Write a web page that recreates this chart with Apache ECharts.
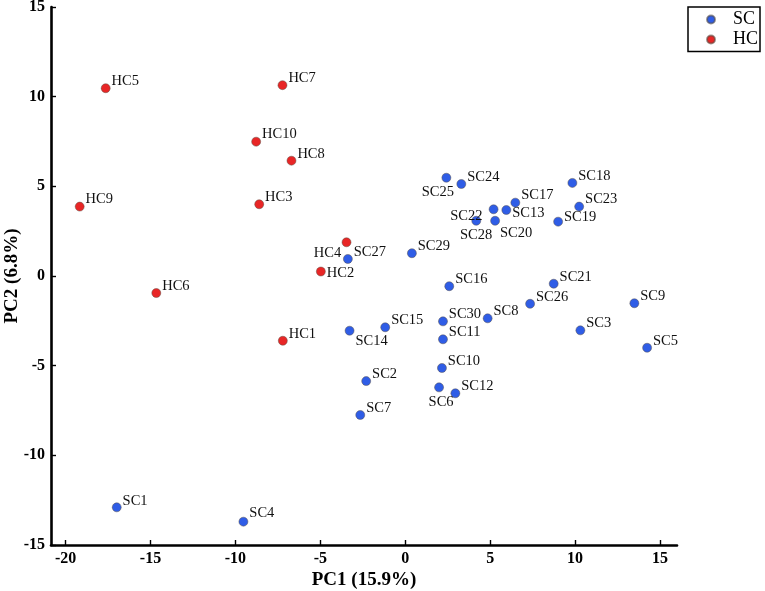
<!DOCTYPE html>
<html>
<head>
<meta charset="UTF-8">
<title>PCA</title>
<style>
  html, body { margin: 0; padding: 0; background: #fff; }
  #pca { width: 765px; height: 591px; }
</style>
</head>
<body>
<div id="pca"></div>
<script src="https://cdn.jsdelivr.net/npm/echarts@6/dist/echarts.min.js"></script>
<script>
// sample scores on the first two components
var scNames = ['SC1','SC2','SC3','SC4','SC5','SC6','SC7','SC8','SC9','SC10',
               'SC11','SC12','SC13','SC14','SC15','SC16','SC17','SC18','SC19','SC20',
               'SC21','SC22','SC23','SC24','SC25','SC26','SC27','SC28','SC29','SC30'];
var scX = [-16.99, -2.30, 10.31, -9.53, 14.24, 1.99, -2.65, 4.85, 13.49, 2.16,
            2.22, 2.95, 5.95, -3.28, -1.18, 2.59, 6.48, 9.84, 9.00, 5.20,
            8.74, 4.18, 10.24, 3.30, 2.42, 7.35, -3.38, 5.29, 0.39, 2.22];
var scY = [-12.90, -5.86, -3.03, -13.70, -4.00, -6.21, -7.75, -2.36, -1.52, -5.13,
           -3.53, -6.54, 3.68, -3.05, -2.86, -0.57, 4.09, 5.19, 3.03, 3.72,
           -0.43, 3.08, 3.87, 5.13, 5.48, -1.55, 0.95, 3.08, 1.27, -2.53];

var hcNames = ['HC1','HC2','HC3','HC4','HC5','HC6','HC7','HC8','HC9','HC10'];
var hcX = [-7.21, -4.97, -8.60, -3.46, -17.64, -14.66, -7.23, -6.70, -19.17, -8.78];
var hcY = [-3.61, 0.25, 4.00, 1.88, 10.47, -0.95, 10.64, 6.43, 3.87, 7.49];

var xTicks = [-20, -15, -10, -5, 0, 5, 10, 15];

// labels that are not simply up-right of their dot
var labelTweaks = {
  SC1:  { offset: [0, -6] },
  SC4:  { offset: [0, -8] },
  SC13: { offset: [0, 3] },
  SC14: { offset: [0, 10] },
  SC19: { offset: [0, -4] },
  HC2:  { offset: [0, 2] },
  SC25: { position: 'inside', align: 'center', offset: [-8.5, 14] },
  HC4:  { position: 'inside', align: 'center', offset: [-19, 11] },
  SC22: { position: 'inside', align: 'center', offset: [-10, -5] },
  SC28: { position: 'inside', align: 'center', offset: [-19, 14] },
  SC20: { position: 'inside', align: 'center', offset: [22.5, 23.4] },
  SC6:  { position: 'inside', align: 'center', offset: [2, 14.4] }
};

var serif = "'Liberation Serif', 'Times New Roman', serif";

function points(names, xs, ys) {
  return names.map(function (n, i) {
    var item = { name: n, value: [xs[i], ys[i]] };
    if (labelTweaks[n]) item.label = labelTweaks[n];
    return item;
  });
}

function axisBase() {
  return {
    axisLine: { onZero: false, lineStyle: { color: '#000', width: 2.6 } },
    axisTick: { inside: true, length: 5, lineStyle: { color: '#000', width: 1.4 } },
    axisLabel: { color: '#000', fontFamily: serif, fontWeight: 'bold', fontSize: 16, margin: 6 },
    splitLine: { show: false },
    nameLocation: 'middle',
    nameMoveOverlap: false,
    nameTextStyle: { color: '#000', fontFamily: serif, fontWeight: 'bold', fontSize: 19 }
  };
}

var xAxis = axisBase();
xAxis.type = 'value';
xAxis.min = -20.86;
xAxis.max = 16;
xAxis.name = 'PC1 (15.9%)';
xAxis.nameGap = 26;
xAxis.axisTick.customValues = xTicks;
xAxis.axisLabel.customValues = xTicks;

var yAxis = axisBase();
yAxis.type = 'value';
yAxis.min = -15;
yAxis.max = 15;
yAxis.interval = 5;
yAxis.name = 'PC2 (6.8%)';
yAxis.nameGap = 29;

var labelBase = {
  show: true,
  position: 'right',
  distance: 1,
  offset: [0, -7],
  color: '#111',
  fontFamily: serif,
  fontSize: 14.5,
  formatter: '{b}'
};

var chart = echarts.init(document.getElementById('pca'));
chart.setOption({
  animation: false,
  backgroundColor: '#fff',
  grid: { left: 51, right: 88, top: 7, bottom: 46, containLabel: false, outerBoundsMode: 'none' },
  legend: {
    orient: 'vertical',
    left: 688,
    top: 7,
    padding: [2, 2, 1.5, 18],
    itemGap: -1,
    itemWidth: 34,
    itemHeight: 8,
    icon: 'circle',
    borderColor: '#000',
    borderWidth: 1.5,
    textStyle: { color: '#000', fontFamily: serif, fontSize: 18, lineHeight: 18, padding: [3, 0, 0, 0] },
    data: ['SC', 'HC']
  },
  xAxis: xAxis,
  yAxis: yAxis,
  series: [
    {
      name: 'SC',
      type: 'scatter',
      symbolSize: 9,
      itemStyle: { color: '#2f5de6', borderColor: 'rgba(90,80,70,0.6)', borderWidth: 0.8, opacity: 1 },
      label: labelBase,
      data: points(scNames, scX, scY)
    },
    {
      name: 'HC',
      type: 'scatter',
      symbolSize: 9,
      itemStyle: { color: '#e82626', borderColor: 'rgba(90,80,70,0.6)', borderWidth: 0.8, opacity: 1 },
      label: labelBase,
      data: points(hcNames, hcX, hcY)
    }
  ]
});
window.addEventListener('resize', chart.resize);
</script>
</body>
</html>
